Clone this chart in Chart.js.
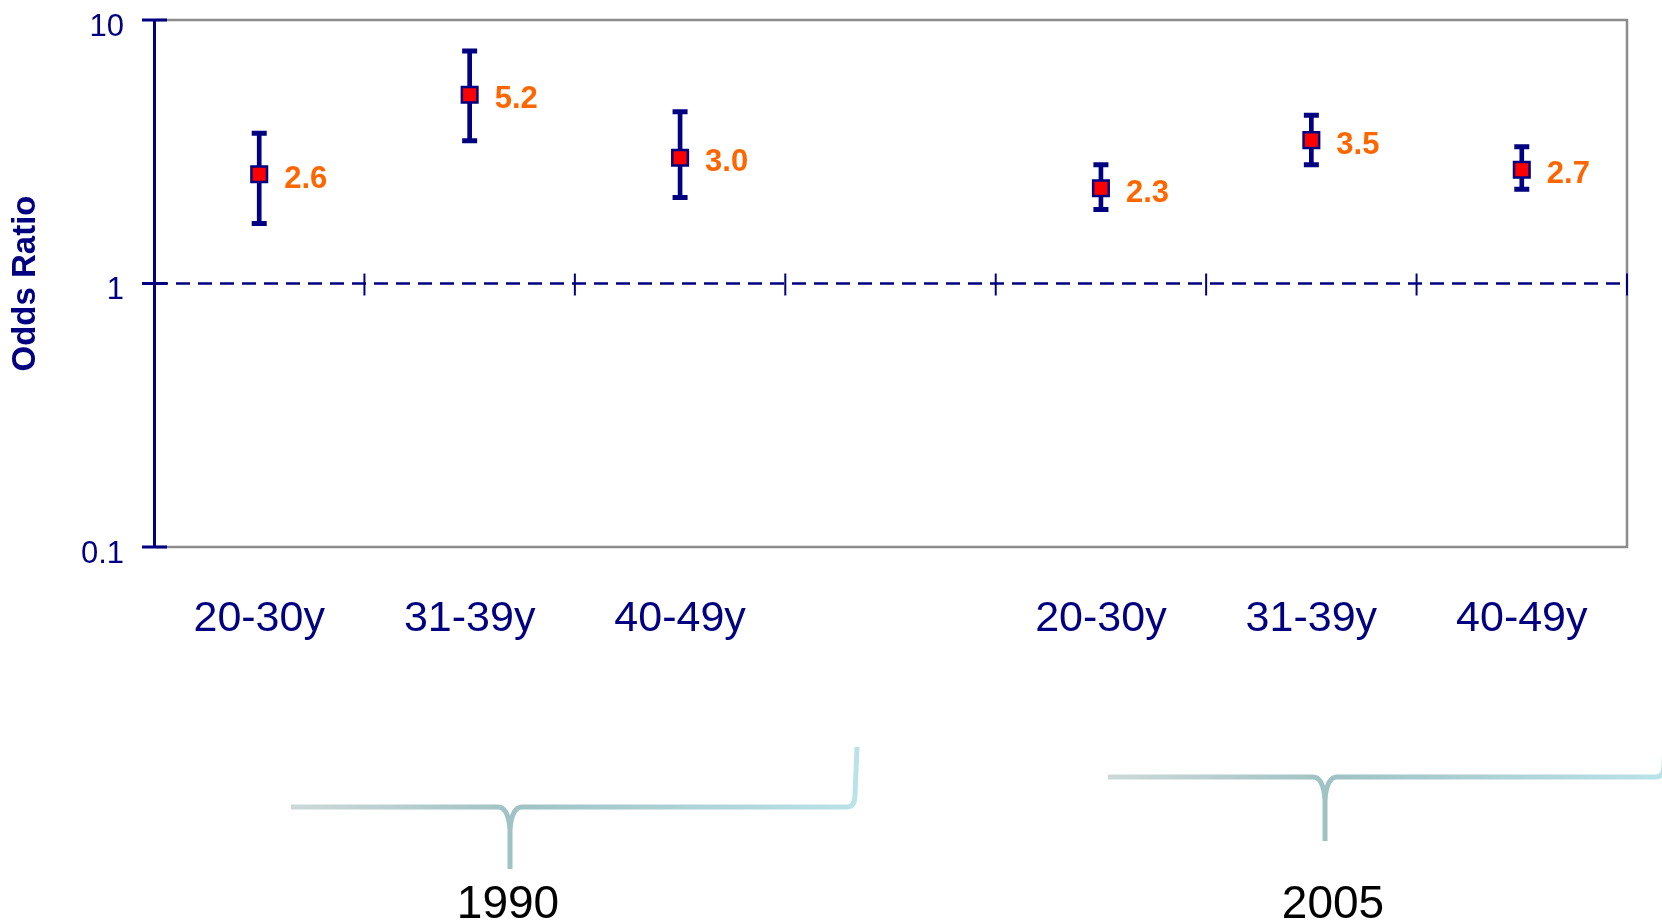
<!DOCTYPE html>
<html>
<head>
<meta charset="utf-8">
<script src="https://cdn.jsdelivr.net/npm/chart.js@4.4.1/dist/chart.umd.min.js"></script>
<style>
  html, body { margin: 0; padding: 0; background: #fff; }
  #wrap { width: 1662px; height: 924px; position: relative; }
</style>
</head>
<body>
<div id="wrap"><canvas id="orChart"></canvas></div>
<script>
// chart data
const categories = ['20-30y', '31-39y', '40-49y', '', '20-30y', '31-39y', '40-49y'];
const oddsRatio = [2.6, 5.2, 3.0, null, 2.3, 3.5, 2.7];
const ciLow = [1.69, 3.48, 2.12, null, 1.91, 2.82, 2.28];
const ciHigh = [3.72, 7.63, 4.49, null, 2.82, 4.35, 3.30];
const yTicks = [0.1, 1, 10];
const groupLabels = ['1990', '2005'];

const NAVY = '#000080';
const FONT = "'Liberation Sans', Arial, sans-serif";

function line(ctx, x1, y1, x2, y2) {
    ctx.beginPath();
    ctx.moveTo(x1, y1);
    ctx.lineTo(x2, y2);
    ctx.stroke();
}

const decor = {
    id: 'decor',
    beforeDatasetsDraw(chart) {
        const { ctx, chartArea: a, scales: { x, y } } = chart;
        ctx.save();
        // plot frame (top, right, bottom)
        ctx.strokeStyle = '#8c8c8c';
        ctx.lineWidth = 2.5;
        ctx.beginPath();
        ctx.moveTo(a.left + 2, a.top);
        ctx.lineTo(a.right, a.top);
        ctx.lineTo(a.right, a.bottom);
        ctx.lineTo(a.left + 2, a.bottom);
        ctx.stroke();

        // reference line at OR = 1
        const y1 = y.getPixelForValue(1);
        ctx.strokeStyle = NAVY;
        ctx.lineWidth = 2.5;
        ctx.setLineDash([14, 8]);
        line(ctx, a.left, y1, a.right, y1);

        // category boundary ticks crossing the OR = 1 line
        ctx.setLineDash([]);
        ctx.lineWidth = 2;
        const half = (x.getPixelForValue(1) - x.getPixelForValue(0)) / 2;
        for (let i = 1; i <= categories.length; i++) {
            const px = x.getPixelForValue(i) - half;
            line(ctx, px, y1 - 10, px, y1 + 12);
        }

        // cross ticks on the y axis
        ctx.lineWidth = 3;
        yTicks.forEach(v => {
            const py = y.getPixelForValue(v);
            line(ctx, a.left - 12, py, a.left + 13, py);
        });
        ctx.restore();
    },
    afterDatasetsDraw(chart) {
        const { ctx } = chart;
        const meta = chart.getDatasetMeta(0);
        ctx.save();
        ctx.fillStyle = '#ff6600';
        ctx.font = 'bold 31px ' + FONT;
        ctx.textAlign = 'left';
        ctx.textBaseline = 'middle';
        meta.data.forEach((pt, i) => {
            if (oddsRatio[i] == null) return;
            ctx.fillText(oddsRatio[i].toFixed(1), pt.x + 25, pt.y + 5);
        });
        ctx.restore();
    },
    afterDraw(chart) {
        const { ctx } = chart;
        // decorative braces under the two survey years
        const braces = [
            { x0: 291, x1: 855, xm: 510, y: 807, tip: 869, top: 747, tx: 508 },
            { x0: 1108, x1: 1664, xm: 1325, y: 777, tip: 841, top: 717, tx: 1333 }
        ];
        ctx.save();
        braces.forEach((b, k) => {
            const g = ctx.createLinearGradient(b.x0, 0, b.x1, 0);
            g.addColorStop(0, '#cdd9d9');
            g.addColorStop(0.4, '#9fc2c4');
            g.addColorStop(1, '#b9e3e8');
            ctx.strokeStyle = g;
            ctx.lineWidth = 5;
            ctx.lineJoin = 'round';
            ctx.beginPath();
            ctx.moveTo(b.x0, b.y);
            ctx.lineTo(b.xm - 12, b.y);
            ctx.quadraticCurveTo(b.xm - 2, b.y, b.xm, b.y + 22);
            ctx.lineTo(b.xm, b.tip);
            ctx.stroke();
            ctx.beginPath();
            ctx.moveTo(b.xm, b.y + 22);
            ctx.quadraticCurveTo(b.xm + 2, b.y, b.xm + 12, b.y);
            ctx.lineTo(b.x1 - 8, b.y);
            ctx.quadraticCurveTo(b.x1, b.y, b.x1, b.y - 12);
            ctx.lineTo(b.x1 + 2, b.top);
            ctx.stroke();

            ctx.fillStyle = '#000';
            ctx.font = '46px ' + FONT;
            ctx.textAlign = 'center';
            ctx.textBaseline = 'middle';
            ctx.fillText(groupLabels[k], b.tx, 905);
        });
        ctx.restore();
    }
};

new Chart(document.getElementById('orChart'), {
    type: 'bar',
    data: {
        labels: categories,
        datasets: [
            {
                type: 'line',
                label: 'Odds ratio',
                data: oddsRatio,
                showLine: false,
                pointStyle: 'rect',
                pointRadius: 11,
                pointBackgroundColor: '#ff0000',
                pointBorderColor: NAVY,
                pointBorderWidth: 2.5,
                order: 0
            },
            {
                type: 'line',
                label: 'CI high',
                data: ciHigh,
                showLine: false,
                pointStyle: 'line',
                pointRadius: 7.5,
                pointBorderColor: NAVY,
                pointBorderWidth: 5,
                order: 1
            },
            {
                type: 'line',
                label: 'CI low',
                data: ciLow,
                showLine: false,
                pointStyle: 'line',
                pointRadius: 7.5,
                pointBorderColor: NAVY,
                pointBorderWidth: 5,
                order: 1
            },
            {
                label: 'CI',
                data: categories.map((_, i) => ciLow[i] == null ? null : [ciLow[i], ciHigh[i]]),
                backgroundColor: NAVY,
                borderWidth: 0,
                barThickness: 4,
                order: 2
            }
        ]
    },
    options: {
        responsive: true,
        maintainAspectRatio: false,
        animation: false,
        layout: { padding: { top: 20, right: 35, bottom: 0, left: 0 } },
        plugins: {
            legend: { display: false },
            tooltip: { enabled: false }
        },
        scales: {
            x: {
                grid: { display: false },
                border: { display: false },
                ticks: {
                    color: NAVY,
                    font: { family: FONT, size: 43 },
                    padding: 38,
                    maxRotation: 0,
                    autoSkip: false
                },
                afterFit: s => { s.height = 377; }
            },
            y: {
                type: 'logarithmic',
                min: 0.1,
                max: 10,
                grid: { display: false },
                border: { display: true, color: NAVY, width: 3 },
                afterBuildTicks: s => { s.ticks = yTicks.map(v => ({ value: v })); },
                afterFit: s => {
                    s.width = 154;
                    s.paddingTop = 0;
                    s.paddingBottom = 0;
                },
                ticks: {
                    color: NAVY,
                    font: { family: FONT, size: 31 },
                    padding: 22,
                    labelOffset: 7,
                    callback: v => String(v)
                },
                title: {
                    display: true,
                    text: 'Odds Ratio',
                    color: NAVY,
                    font: { family: FONT, size: 33, weight: 'bold' },
                    padding: { top: 6, bottom: 0 }
                }
            }
        }
    },
    plugins: [decor]
});
</script>
</body>
</html>
